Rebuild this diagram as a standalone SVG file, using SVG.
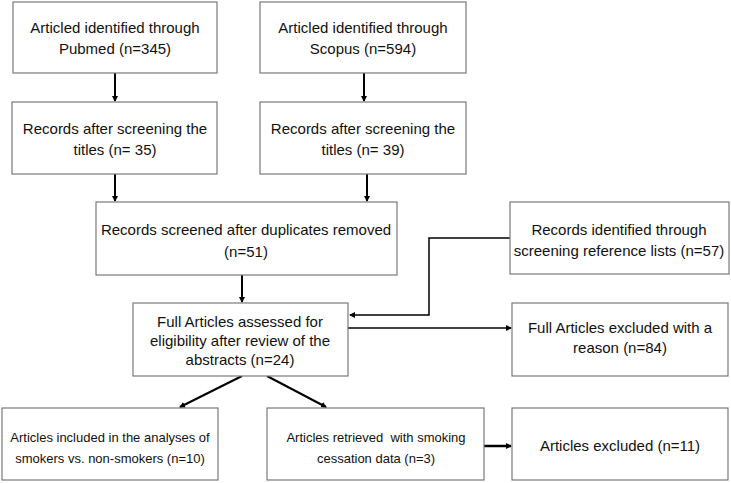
<svg xmlns="http://www.w3.org/2000/svg" width="731" height="483" viewBox="0 0 731 483">
<style>
.box{fill:#fff;stroke:#7a7a7a;stroke-width:1.2}
.t{font-family:"Liberation Sans",Arial,sans-serif;font-size:15px;fill:#111;text-anchor:middle}
.s{font-size:13px}
.c{fill:none;stroke:#000;stroke-width:2}
</style>
<defs>
<marker id="ah" markerWidth="6" markerHeight="6" refX="5" refY="3" orient="auto" markerUnits="userSpaceOnUse">
<path d="M0,0 L6,3 L0,6 z" fill="#000"/>
</marker>
</defs>
<rect width="731" height="483" fill="#fff"/>
<g id="connectors">
<line class="c" x1="115" y1="73" x2="115" y2="101" marker-end="url(#ah)"/>
<line class="c" x1="364" y1="73" x2="364" y2="101" marker-end="url(#ah)"/>
<line class="c" x1="115" y1="174" x2="115" y2="201" marker-end="url(#ah)"/>
<line class="c" x1="367" y1="174" x2="367" y2="201" marker-end="url(#ah)"/>
<line class="c" x1="242" y1="275" x2="242" y2="302" marker-end="url(#ah)"/>
<polyline style="fill:none;stroke:#000;stroke-width:1.5" points="510,238 429,238 429,315 350,315" marker-end="url(#ah)"/>
<line style="stroke:#000;stroke-width:1.5" x1="348" y1="328" x2="511" y2="328" marker-end="url(#ah)"/>
<line class="c" x1="242" y1="376" x2="180" y2="407" marker-end="url(#ah)"/>
<line class="c" x1="267" y1="376" x2="326" y2="407" marker-end="url(#ah)"/>
<line style="stroke:#000;stroke-width:2.5" x1="484" y1="446" x2="511" y2="446" marker-end="url(#ah)"/>
</g>
<g id="pubmed"><rect class="box" x="13" y="2" width="204" height="71"/>
<text class="t" x="115" y="33">Articled identified through</text><text class="t" x="115" y="54">Pubmed (n=345)</text></g>
<g id="scopus"><rect class="box" x="260" y="2" width="206" height="71"/>
<text class="t" x="363" y="33">Articled identified through</text><text class="t" x="363" y="54">Scopus (n=594)</text></g>
<g id="titles35"><rect class="box" x="12" y="102" width="205" height="72"/>
<text class="t" x="115" y="134">Records after screening the</text><text class="t" x="115" y="155">titles (n= 35)</text></g>
<g id="titles39"><rect class="box" x="260" y="102" width="206" height="72"/>
<text class="t" x="363" y="134">Records after screening the</text><text class="t" x="363" y="155">titles (n= 39)</text></g>
<g id="dupes"><rect class="box" x="96" y="202" width="301" height="73"/>
<text class="t" x="246" y="235">Records screened after duplicates removed</text><text class="t" x="246" y="257">(n=51)</text></g>
<g id="reflists"><rect class="box" x="510" y="202" width="219" height="72"/>
<text class="t" x="619" y="235">Records identified through</text><text class="t" x="619" y="256">screening reference lists (n=57)</text></g>
<g id="fullassessed"><rect class="box" x="133" y="303" width="215" height="73"/>
<text class="t" x="240" y="327">Full Articles assessed for</text><text class="t" x="240" y="346">eligibility after review of the</text><text class="t" x="240" y="365">abstracts (n=24)</text></g>
<g id="fullexcluded"><rect class="box" x="512" y="303" width="216" height="73"/>
<text class="t" x="620" y="333">Full Articles excluded with a</text><text class="t" x="620" y="353">reason (n=84)</text></g>
<g id="included"><rect class="box" x="2" y="408" width="216" height="72"/>
<text class="t s" x="110" y="442">Articles included in the analyses of</text><text class="t s" x="110" y="463">smokers vs. non-smokers (n=10)</text></g>
<g id="cessation"><rect class="box" x="267" y="408" width="217" height="72"/>
<text class="t s" x="376" y="442" xml:space="preserve">Articles retrieved  with smoking</text><text class="t s" x="376" y="463">cessation data (n=3)</text></g>
<g id="excluded"><rect class="box" x="512" y="408" width="216" height="72"/>
<text class="t" x="620" y="451">Articles excluded (n=11)</text></g>
</svg>
